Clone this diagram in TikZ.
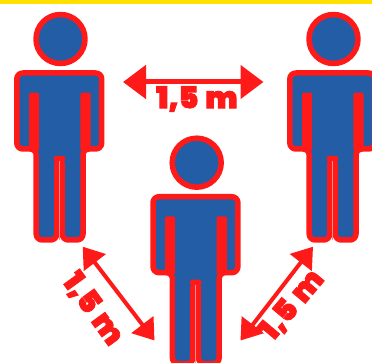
\documentclass[tikz,border=0pt]{standalone}
\usepackage{fontspec}
\usepackage{tikz}
\usetikzlibrary{arrows.meta}
\newfontfamily\labelfont{Poppins Black}
\newcommand{\heavytext}[1]{\special{pdf:code 2 Tr 0.9 w}#1\special{pdf:code 0 Tr 1 w}}
\definecolor{signred}{HTML}{FF1A1A}
\definecolor{signblue}{HTML}{225DA6}
\definecolor{signyellow}{HTML}{FFE000}
\tikzset{
  figure/.style={draw=signred, fill=signblue, line width=5.5pt, line join=round},
  slitbar/.style={fill=signred, rounded corners=1.5pt},
  spacing/.style={draw=signred, line width=5pt, {Triangle[length=23pt,width=33pt]}-{Triangle[length=23pt,width=33pt]}},
  spacingdiag/.style={draw=signred, line width=4pt, {Triangle[length=20pt,width=27pt]}-{Triangle[length=20pt,width=27pt]}},
  distlabel/.style={text=signred, font=\labelfont\fontsize{30}{30}\selectfont, inner sep=0pt},
  person/.pic={
    \draw[figure] (0,0) circle[radius=24.5];
    \draw[figure, rounded corners=6pt] (-43.7,34) -- (41.2,34) -- (41.2,110) -- (22.5,110) -- (22.5,201)
      -- (1.75,201) -- (1.75,119.7) -- (-3.75,119.7) -- (-3.75,201) -- (-24.3,201) -- (-24.3,110)
      -- (-43.7,110) -- cycle;
    \fill[slitbar] (-31.5,53.7) rectangle (-21.5,112);
    \fill[slitbar] (19.8,53.7) rectangle (30.2,112);
    \draw[red!45, line width=0.6pt] (-1,122) -- (-1,201);
  }
}
\begin{document}
\begin{tikzpicture}[x=1pt,y=-1pt]
\useasboundingbox (0,0) rectangle (372,363);
\clip (0,0) rectangle (372,363);
\fill[signyellow] (0,0) rectangle (372,4);
\pic at (60.5,39) {person};
\pic at (196.7,162.7) {person};
\pic at (333.5,39) {person};
% top distance
\coordinate (topleft) at (123,82);
\coordinate (topright) at (263.5,82);
\draw[spacing] (topleft) -- (topright);
\node[distlabel] (toplabel) at (197,99) {\heavytext{1,5\hspace{0.06em} m}};
% lower left distance
\coordinate (lowleftup) at (82.7,246.7);
\coordinate (lowleftdown) at (154.5,340.5);
\draw[spacingdiag] (lowleftup) -- (lowleftdown);
\node[distlabel, rotate=-54] (leftlabel) at (93,309) {\heavytext{1,5\hspace{0.06em} m}};
% lower right distance
\coordinate (lowrightup) at (313,246.7);
\coordinate (lowrightdown) at (240.5,340.5);
\draw[spacingdiag] (lowrightup) -- (lowrightdown);
\node[distlabel, rotate=50] (rightlabel) at (292,305) {\heavytext{1,5\hspace{0.06em} m}};
\end{tikzpicture}
\end{document}
